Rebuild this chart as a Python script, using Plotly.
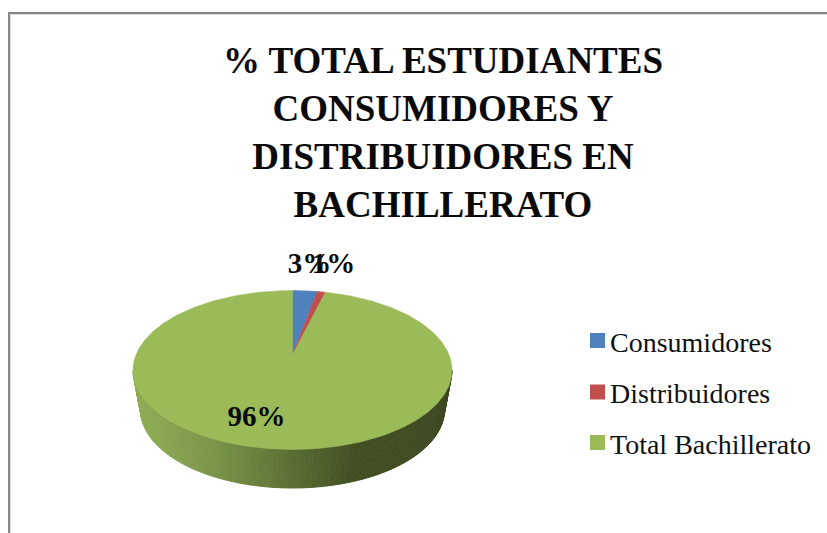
import numpy as np
import plotly.graph_objects as go

# ---- data ----
categories = ["Consumidores", "Distribuidores", "Total Bachillerato"]
values = [3, 1, 96]
colors = ["#4f81bd", "#c0504d", "#9bbb59"]
title_lines = ["% TOTAL ESTUDIANTES", "CONSUMIDORES Y", "DISTRIBUIDORES EN", "BACHILLERATO"]

# ---- scene geometry (pixels) ----
W, H = 827, 533
CX, CY, RX, RY = 292.5, 370.0, 159.5, 79.5   # top ellipse
CX2, CY2, RX2, RY2 = 292.5, 409.5, 152.0, 78.5  # bottom ellipse of the rim
TILT = 0.189                                 # perspective: shift of pie centre
SERIF = "Liberation Serif"
label_font_size = 29
legend_font_size = 28


def project(theta):
    """Clockwise angle from 12 o'clock on the round pie -> page pixels."""
    X, Y = np.sin(theta), np.cos(theta)
    d = 1 + TILT * Y
    return (CX + RX * X * np.sqrt(1 - TILT**2) / d,
            CY - RY * (Y + TILT) / d)


fig = go.Figure()

# rim: thin strips along the front half with a left-to-right gradient
stops_t = [0.0, 0.25, 0.5, 0.7, 1.0]
stops_rgb = np.array([[143, 174, 85], [122, 148, 72], [90, 110, 51], [65, 77, 34], [62, 72, 32]])
n = 200
phis = np.linspace(np.pi, 0, n + 1)
for a, b in zip(phis[:-1], phis[1:]):
    xs = [CX + RX * np.cos(a), CX + RX * np.cos(b), CX2 + RX2 * np.cos(b), CX2 + RX2 * np.cos(a)]
    ys = [CY + RY * np.sin(a), CY + RY * np.sin(b), CY2 + RY2 * np.sin(b), CY2 + RY2 * np.sin(a)]
    t = (np.cos((a + b) / 2) + 1) / 2
    rgb = [int(np.interp(t, stops_t, stops_rgb[:, i])) for i in range(3)]
    c = f"rgb({rgb[0]},{rgb[1]},{rgb[2]})"
    fig.add_trace(go.Scatter(x=xs, y=ys, mode="lines", fill="toself", fillcolor=c,
                             line=dict(color=c, width=1), showlegend=False, hoverinfo="skip"))

# top face slices, from the values
total = sum(values)
start = 0.0
ax, ay = CX, CY - RY * TILT
for name, v, c in zip(categories, values, colors):
    end = start + v / total * 2 * np.pi
    th = np.linspace(start, end, max(3, int(v * 4)))
    px, py = project(th)
    fig.add_trace(go.Scatter(x=np.r_[ax, px, ax], y=np.r_[ay, py, ay], mode="lines", fill="toself",
                             fillcolor=c, line=dict(color=c, width=0.5), showlegend=False,
                             name=name, hoverinfo="name"))
    start = end

# percentage labels
label_x = [309.5, 333.5, 256.5]
label_y = [265.5, 265.5, 418.5]
fig.add_trace(go.Scatter(x=label_x, y=label_y, mode="text",
                         text=[f"{v}%" for v in values],
                         textfont=dict(family=SERIF, size=label_font_size, color="#0a0a0a", weight="bold"),
                         textposition="middle center", showlegend=False, hoverinfo="skip"))

# legend
legend_x = [597.5] * 3
legend_y = [340.5, 392, 442.5]
fig.add_trace(go.Scatter(x=legend_x, y=legend_y, mode="markers",
                         marker=dict(symbol="square", size=15, color=colors, line=dict(width=0)),
                         showlegend=False, hoverinfo="skip"))
fig.add_trace(go.Scatter(x=[610] * 3, y=[344.5, 396, 446.5], mode="text", text=categories,
                         textposition="middle right",
                         textfont=dict(family=SERIF, size=legend_font_size, color="#111111"),
                         showlegend=False, hoverinfo="skip"))

fig.update_layout(
    width=W, height=H, autosize=False,
    margin=dict(l=0, r=0, t=0, b=0),
    paper_bgcolor="white", plot_bgcolor="white",
    xaxis=dict(range=[0, W], visible=False, fixedrange=True),
    yaxis=dict(range=[H, 0], visible=False, fixedrange=True),
    title=dict(text="<br>".join(title_lines), x=443 / W, xanchor="center", y=1 - 72.5 / H, yanchor="top",
               font=dict(family=SERIF, size=37, color="#0a0a0a", weight="bold")),
    shapes=[
        dict(type="path", path=f"M 9 {H + 5} L 9 13 L {W + 5} 13", line=dict(color="#868686", width=2), layer="below"),
        dict(type="path", path=f"M 10.5 {H + 5} L 10.5 14.5 L {W + 5} 14.5", line=dict(color="#dcdcdc", width=1), layer="below"),
    ],
)
fig.write_html("out.html", config=dict(displayModeBar=False),
               post_script="document.body.style.margin='0';document.documentElement.style.overflow='hidden';")
